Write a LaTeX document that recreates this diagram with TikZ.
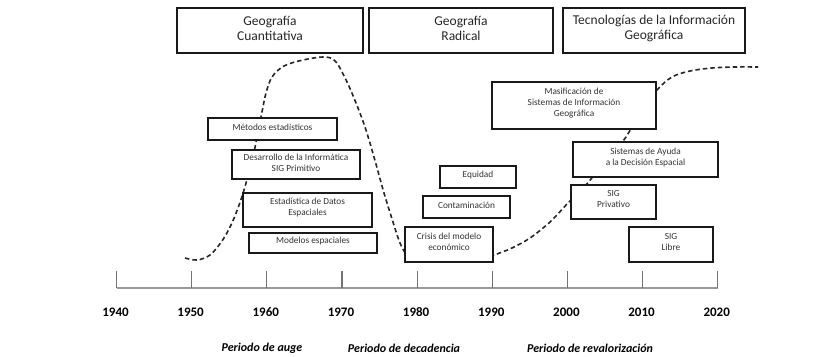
\documentclass[tikz,border=0pt]{standalone}
\usepackage{fontspec}
\setmainfont{Carlito}
\usetikzlibrary{fit}
\begin{document}
\begin{tikzpicture}[x=1pt,y=-1pt,
 frame/.style={draw=black!90, line width=1.6pt, fill=white, inner sep=0pt},
 head/.style={font=\fontsize{13.5}{14.5}\selectfont, align=center, text=black!85},
 lbl/.style={font=\fontsize{9.3}{11}\selectfont, align=center, text=black!80},
 year/.style={font=\fontsize{13}{15}\selectfont\bfseries},
 period/.style={font=\fontsize{12}{14}\selectfont\bfseries\itshape},
 curve/.style={line width=1.6pt, dash pattern=on 4.5pt off 3pt, draw=black!85},
 axisline/.style={draw=black!40, line width=1.2pt},
 tickline/.style={draw=black!55, line width=1.2pt}]
\useasboundingbox (0,0) rectangle (819,356);

% dashed curves (drawn first, boxes cover them)
\draw[curve] plot[smooth, tension=0.55] coordinates {(185,258) (197,260) (210,255) (222,241) (231,225) (238,208) (244,190) (249,172) (254,152) (258,132) (262,112) (266,93) (272,77) (284,66) (303,60) (325,57) (336,62) (347,82) (356,103) (365,127) (374,157) (384,193) (393,222) (400,243) (408,258)};
\draw[curve] plot[smooth, tension=0.55] coordinates {(490,257) (497,254) (512,248) (530,238) (550,222) (568,203) (585,186) (600,168) (614,152) (626,137) (640,113) (657,90) (672,77) (690,71) (712,68) (735,67) (758,67)};

% header boxes
\node[frame, fit={(177,8)(363,53)}] (hq) {};
\node[head] (hq-t) at ([yshift=2pt]hq.center) {Geografía\\Cuantitativa};
\node[frame, fit={(369,8)(553,53)}] (hr) {};
\node[head] (hr-t) at ([yshift=2pt]hr.center) {Geografía\\Radical};
\node[frame, fit={(563,8)(745,53)}] (ht) {};
\node[head] (ht-t) at ([yshift=2pt]ht.center) {Tecnologías de la Información\\Geográfica};

% event boxes
\node[frame, fit={(208,118)(337,140)}] (met) {};
\node[lbl] (met-t) at ([yshift=2pt]met.center) {Métodos estadísticos};
\node[frame, fit={(232,150)(360,179)}] (des) {};
\node[lbl] (des-t) at ([yshift=2pt]des.center) {Desarrollo de la Informática\\SIG Primitivo};
\node[frame, fit={(243,193)(372,227)}] (est) {};
\node[lbl] (est-t) at ([yshift=2pt]est.center) {Estadística de Datos\\Espaciales};
\node[frame, fit={(249,233)(377,253)}] (mod) {};
\node[lbl] (mod-t) at ([yshift=1.5pt]mod.center) {Modelos espaciales};

\node[frame, fit={(440,166)(516,188)}] (equ) {};
\node[lbl] (equ-t) at ([yshift=2pt]equ.center) {Equidad};
\node[frame, fit={(423,196)(510,218)}] (con) {};
\node[lbl] (con-t) at ([yshift=2pt]con.center) {Contaminación};
\node[frame, fit={(405,227)(493,262)}] (cri) {};
\node[lbl] (cri-t) at ([yshift=2.5pt]cri.center) {Crisis del modelo\\económico};

\node[frame, fit={(492,82)(656,129)}] (mas) {};
\node[lbl] (mas-t) at ([yshift=2pt]mas.center) {Masificación de\\Sistemas de Información\\Geográfica};
\node[frame, fit={(573,142)(718,177)}] (sad) {};
\node[lbl] (sad-t) at ([yshift=2pt]sad.center) {Sistemas de Ayuda\\a la Decisión Espacial};
\node[frame, fit={(571,185)(656,219)}] (spr) {};
\node[lbl] (spr-t) at ([yshift=2.5pt]spr.center) {SIG\\Privativo};
\node[frame, fit={(629,227)(713,262)}] (sli) {};
\node[lbl] (sli-t) at ([yshift=2.5pt]sli.center) {SIG\\Libre};

% axis
\coordinate (ax0) at (116.5,288);
\coordinate (ax1) at (717.7,288);
\draw[axisline] (ax0) -- (ax1);
\foreach \yr in {1940,1950,...,2020}{
  \coordinate (tb\yr) at ({116.5+(\yr-1940)*7.515},288);
  \coordinate (tt\yr) at ({116.5+(\yr-1940)*7.515},271);
  \draw[tickline] (tb\yr) -- (tt\yr);
  \node[year] (yl\yr) at ({115.5+(\yr-1940)*7.515},312) {\yr};
}

% periods
\node[period] (p1) at (262,348) {Periodo de auge};
\node[period] (p2) at (404,348) {Periodo de decadencia};
\node[period] (p3) at (590,348) {Periodo de revalorización};
\end{tikzpicture}
\end{document}
